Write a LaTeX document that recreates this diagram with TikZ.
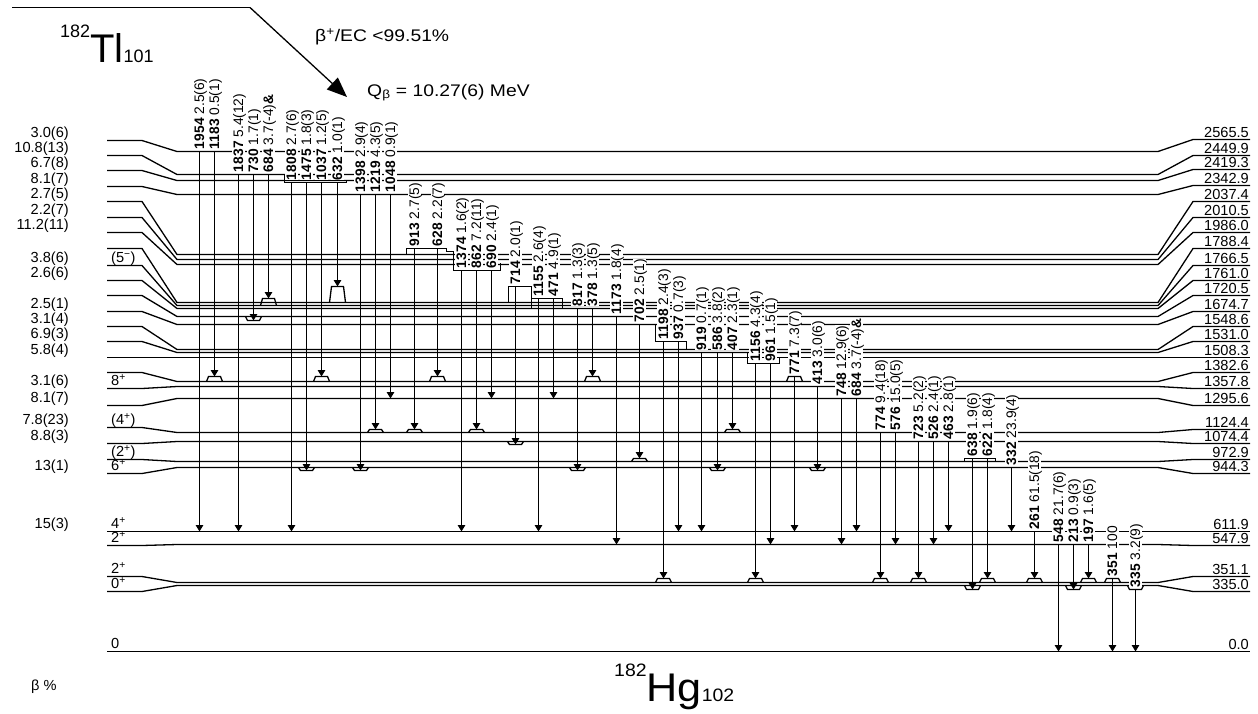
\documentclass[tikz,border=0pt]{standalone}
\usepackage{fontspec}
\setmainfont{Liberation Sans}
\usetikzlibrary{arrows.meta}

% gamma ray: x, y of start level, y of end level, energy, intensity, name
\newcommand{\gam}[6]{%
  \coordinate (#6s) at (#1,#2);
  \coordinate (#6e) at (#1,#3);
  \node[glab] (#6) at ([yshift=2pt]#6s) {\raisebox{0pt}[10.4pt][1.2pt]{\textbf{#4}\ #5}};
  \draw[gam] (#6s) -- (#6e);
}
% kink of a level line at x, level y, height
\newcommand{\bmp}[3]{%
  \draw[lvl] ({#1-8},#2) -- ({#1-6},{#2-(#3)}) -- ({#1+6},{#2-(#3)}) -- ({#1+8},#2);
}
\newcommand{\nucl}[3]{{\fontsize{18}{18}\selectfont\raisebox{25pt}{#1}}{\fontsize{40}{40}\selectfont #2}{\fontsize{18}{18}\selectfont #3}}

\begin{document}
\begin{tikzpicture}[x=1pt, y=-1pt,
    lvl/.style={line width=1.3pt},
    gam/.style={line width=1.3pt, -{Triangle[width=7.5pt,length=6.5pt]}},
    feed/.style={line width=1.3pt, -{Triangle[width=16pt,length=20pt]}},
    glab/.style={rotate=90, anchor=west, fill=white, inner sep=0.3pt, font=\fontsize{13.8}{14}\selectfont},
    side/.style={inner sep=0pt, font=\fontsize{14.6}{15}\selectfont},
    elab/.style={side, anchor=base east, yshift=2.5pt},
    blab/.style={side, anchor=base east, yshift=3pt},
    jlab/.style={side, anchor=base west, yshift=3pt},
    txt/.style={anchor=base west, inner sep=0pt, xscale=1.15, font=\fontsize{16.8}{17}\selectfont}
  ]
  \useasboundingbox (0,0) rectangle (1258,713);

  % levels: name / y in the middle / y at the left / y at the right / energy
  \foreach \nm/\ym/\yl/\yr/\en in {
      L1/151.5/140.5/139.5/2565.5, L2/174.5/155.5/155.5/2449.9, L3/180.5/170.5/169.5/2419.3,
      L4/194.5/186.5/185.5/2342.9, L5/254.5/201.5/201.5/2037.4, L6/259.5/217.5/217.5/2010.5,
      L7/264.5/232.5/232.5/1986.0, L8/302.5/248.5/248.5/1788.4, L9/305.5/265.5/265.5/1766.5,
      L10/308.5/280.5/280.5/1761.0, L11/316.5/295.5/295.5/1720.5, L12/324.5/311.5/311.5/1674.7,
      L13/349.5/326.5/326.5/1548.6, L14/352.5/341.5/341.5/1531.0, L15/357.5/357.5/357.5/1508.3,
      L16/381.5/372.5/372.5/1382.6, L17/386.5/388.5/388.5/1357.8, L18/398.5/405.5/405.5/1295.6,
      L19/432.5/427.5/429.5/1124.4, L20/441.5/443.5/443.5/1074.4, L21/461.5/459.5/459.5/972.9,
      L22/467.5/473.5/473.5/944.3, L23/531.5/531.5/531.5/611.9, L24/544.5/545.5/545.5/547.9,
      L25/582.5/576.5/576.5/351.1, L26/585.5/591.5/591.5/335.0, L27/651.5/651.5/651.5/0.0} {
    \draw[lvl] (107,\yl) -- (142,\yl) -- (177,\ym) -- (1158,\ym) -- (1193,\yr) -- (1250,\yr);
    \node[elab] (\nm) at (1249,\yr) {\en};
  }

  % shelves under the label groups
  \draw[lvl] (284.5,174.5) -- (284.5,182.5) -- (346.5,182.5) -- (346.5,180.5);
  \draw[lvl] (406.5,254.5) -- (406.5,248.5) -- (446.5,248.5) -- (446.5,251.5) -- (453.5,251.5)
    -- (453.5,270.5) -- (500.5,270.5) -- (500.5,262.5);
  \draw[lvl] (508.5,302.5) -- (508.5,286.5) -- (531.5,286.5) -- (531.5,308.5);
  \draw[lvl] (531.5,298.5) -- (562.5,298.5) -- (562.5,308.5);
  \draw[lvl] (655.5,324.5) -- (655.5,341.5) -- (686.5,341.5) -- (686.5,349.5);
  \draw[lvl] (747.5,352.5) -- (747.5,363.5) -- (779.5,363.5) -- (779.5,357.5);
  \draw[lvl] (964.5,461.5) -- (964.5,458.5) -- (995.5,458.5) -- (995.5,461.5);

  % beta feeding
  \foreach \ys/\bp [count=\k] in {140.5/3.0(6), 155.5/10.8(13), 170.5/6.7(8), 186.5/8.1(7),
      201.5/2.7(5), 217.5/2.2(7), 232.5/11.2(11), 265.5/3.8(6), 280.5/2.6(6), 311.5/2.5(1),
      326.5/3.1(4), 341.5/6.9(3), 357.5/5.8(4), 388.5/3.1(6), 405.5/8.1(7), 427.5/7.8(23),
      443.5/8.8(3), 473.5/13(1), 531.5/15(3)}
    \node[blab] (b\k) at (69,\ys) {\bp};

  % spins
  \node[jlab] (j9) at (111,265.5) {(5\textsuperscript{−})};
  \node[jlab] (j17) at (111,388.5) {8\textsuperscript{+}};
  \node[jlab] (j19) at (111,427.5) {(4\textsuperscript{+})};
  \node[jlab] (j21) at (111,459.5) {(2\textsuperscript{+})};
  \node[jlab] (j22) at (111,473.5) {6\textsuperscript{+}};
  \node[jlab] (j23) at (111,531.5) {4\textsuperscript{+}};
  \node[jlab] (j24) at (111,545.5) {2\textsuperscript{+}};
  \node[jlab] (j25) at (111,576.5) {2\textsuperscript{+}};
  \node[jlab] (j26) at (111,591.5) {0\textsuperscript{+}};
  \node[jlab] (j27) at (111,651.5) {0};

  % gamma rays
  \gam{199.5}{151.5}{531.5}{1954}{2.5(6)}{g1954}
  \gam{214.5}{151.5}{376.5}{1183}{0.5(1)}{g1183}
  \gam{238.5}{174.5}{531.5}{1837}{5.4(12)}{g1837}
  \gam{253.5}{174.5}{320.5}{730}{1.7(1)}{g730}
  \gam{268.5}{174.5}{298.5}{684}{3.7(-4)\textbf{\&}}{g684u}
  \gam{291.5}{182.5}{531.5}{1808}{2.7(6)}{g1808}
  \gam{306.5}{182.5}{470.5}{1475}{1.8(3)}{g1475}
  \gam{321.5}{182.5}{376.5}{1037}{1.2(5)}{g1037}
  \gam{337.5}{182.5}{286.5}{632}{1.0(1)}{g632}
  \gam{360.5}{194.5}{470.5}{1398}{2.9(4)}{g1398}
  \gam{375.5}{194.5}{429.5}{1219}{4.3(5)}{g1219}
  \gam{390.5}{194.5}{398.5}{1048}{0.9(1)}{g1048}
  \gam{414.5}{248.5}{429.5}{913}{2.7(5)}{g913}
  \gam{437.5}{248.5}{376.5}{628}{2.2(7)}{g628}
  \gam{461.5}{270.5}{531.5}{1374}{1.6(2)}{g1374}
  \gam{476.5}{270.5}{429.5}{862}{7.2(11)}{g862}
  \gam{491.5}{270.5}{398.5}{690}{2.4(1)}{g690}
  \gam{515.5}{286.5}{444.5}{714}{2.0(1)}{g714}
  \gam{538.5}{298.5}{531.5}{1155}{2.6(4)}{g1155}
  \gam{553.5}{298.5}{398.5}{471}{4.9(1)}{g471}
  \gam{577.5}{308.5}{470.5}{817}{1.3(3)}{g817}
  \gam{592.5}{308.5}{376.5}{378}{1.3(5)}{g378}
  \gam{616.5}{316.5}{544.5}{1173}{1.8(4)}{g1173}
  \gam{639.5}{324.5}{458.5}{702}{2.5(1)}{g702}
  \gam{663.5}{341.5}{578.5}{1198}{2.4(3)}{g1198}
  \gam{678.5}{341.5}{531.5}{937}{0.7(3)}{g937}
  \gam{701.5}{352.5}{531.5}{919}{0.7(1)}{g919}
  \gam{717.5}{352.5}{470.5}{586}{3.8(2)}{g586}
  \gam{732.5}{352.5}{429.5}{407}{2.3(1)}{g407}
  \gam{755.5}{363.5}{578.5}{1156}{4.3(4)}{g1156}
  \gam{770.5}{363.5}{544.5}{961}{1.5(1)}{g961}
  \gam{794.5}{376.5}{531.5}{771}{7.3(7)}{g771}
  \gam{817.5}{386.5}{470.5}{413}{3.0(6)}{g413}
  \gam{841.5}{398.5}{544.5}{748}{12.9(6)}{g748}
  \gam{856.5}{398.5}{531.5}{684}{3.7(-4)\textbf{\&}}{g684l}
  \gam{880.5}{432.5}{578.5}{774}{9.4(18)}{g774}
  \gam{895.5}{432.5}{544.5}{576}{15.0(5)}{g576}
  \gam{918.5}{441.5}{578.5}{723}{5.2(2)}{g723}
  \gam{933.5}{441.5}{544.5}{526}{2.4(1)}{g526}
  \gam{948.5}{441.5}{531.5}{463}{2.8(1)}{g463}
  \gam{972.5}{458.5}{589.5}{638}{1.9(6)}{g638}
  \gam{987.5}{458.5}{578.5}{622}{1.8(4)}{g622}
  \gam{1011.5}{467.5}{531.5}{332}{23.9(4)}{g332}
  \gam{1034.5}{531.5}{578.5}{261}{61.5(18)}{g261}
  \gam{1058.5}{544.5}{651.5}{548}{21.7(6)}{g548}
  \gam{1073.5}{544.5}{589.5}{213}{0.9(3)}{g213}
  \gam{1088.5}{544.5}{578.5}{197}{1.6(5)}{g197}
  \gam{1112.5}{578.5}{651.5}{351}{100}{g351}
  \gam{1135.5}{589.5}{651.5}{335}{3.2(9)}{g335}

  % kinks where the lines lie close
  \foreach \bx/\by/\bh in {214.5/381.5/5, 253.5/316.5/-4, 268.5/305.5/7, 337.5/302.5/16,
      306.5/467.5/-3, 321.5/381.5/5, 360.5/467.5/-3, 375.5/432.5/3, 414.5/432.5/3,
      437.5/381.5/5, 476.5/432.5/3, 515.5/441.5/-3, 577.5/467.5/-3, 592.5/381.5/5,
      639.5/461.5/3, 663.5/582.5/4, 717.5/467.5/-3, 732.5/432.5/3, 755.5/582.5/4,
      794.5/381.5/5, 817.5/467.5/-3, 880.5/582.5/4, 918.5/582.5/4, 972.5/585.5/-4,
      987.5/582.5/4, 1034.5/582.5/4, 1073.5/585.5/-4, 1088.5/582.5/4, 1112.5/582.5/4,
      1135.5/585.5/-4}
    {\bmp{\bx}{\by}{\bh}}

  % parent and decay
  \coordinate (p0) at (12,7.5);
  \coordinate (p1) at (250,7.5);
  \coordinate (ptip) at (347,97);
  \draw[lvl] (p0) -- (p1);
  \draw[feed] (p1) -- (ptip);
  \node[anchor=base west, inner sep=0pt] (parent) at (60,62) {\nucl{182}{Tl}{101}};
  \node[anchor=base west, inner sep=0pt, xscale=1.08] (daughter) at (614,701.5) {\nucl{182}{Hg}{102}};
  \node[txt] (branch) at (315,41.5) {β\textsuperscript{+}/EC <99.51\%};
  \node[txt] (qval) at (367,96) {Q\textsubscript{β} = 10.27(6) MeV};
  \node[side, anchor=base west] (bperc) at (31,690) {β \%};
\end{tikzpicture}
\end{document}
